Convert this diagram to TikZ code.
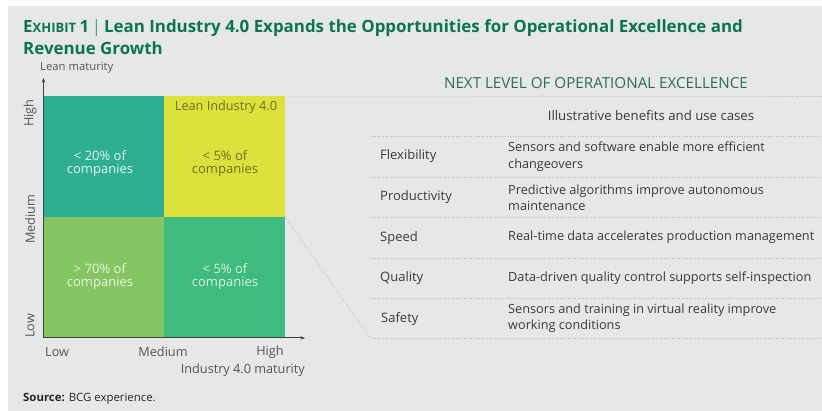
\documentclass[tikz,border=0pt]{standalone}
\usepackage{fontspec}
\setmainfont{Open Sans}
\usetikzlibrary{arrows.meta}
\definecolor{panelbg}{HTML}{E6E7E8}
\definecolor{titlegreen}{HTML}{0D7452}
\definecolor{headgreen}{HTML}{2F6E52}
\definecolor{cellteal}{HTML}{2EAE92}
\definecolor{cellyellow}{HTML}{DDE13C}
\definecolor{celllime}{HTML}{85C663}
\definecolor{cellgreen}{HTML}{3FBB7D}
\definecolor{bodytext}{HTML}{3A3A3A}
\definecolor{axistext}{HTML}{555555}
\definecolor{ruleline}{HTML}{B4B6B8}
\tikzset{
  cell/.style={minimum width=120.5pt,minimum height=120.5pt,inner sep=0pt,draw=none},
  celltext/.style={align=center,font=\fontsize{13}{13.5}\selectfont,inner sep=0pt},
  axislabel/.style={font=\fontsize{12.7}{14}\selectfont,text=axistext,inner sep=0pt},
  rowlabel/.style={anchor=west,font=\fontsize{13}{16}\selectfont,text=bodytext,inner sep=0pt},
  rowtext/.style={anchor=west,align=left,font=\fontsize{12.7}{16.5}\selectfont,text=bodytext,inner sep=0pt},
  dotrule/.style={draw=ruleline,line width=0.6pt,dash pattern=on 1pt off 1.6pt},
  axisline/.style={draw=black!75,line width=1pt,-{Stealth[length=4.5pt,width=3.5pt]}}
}
\begin{document}
\begin{tikzpicture}[x=1pt,y=-1pt]
\useasboundingbox (0,0) rectangle (822,411);
\fill[panelbg] (8,6) rectangle (822,411);

% heading
\node[anchor=base west,inner sep=0pt,text=titlegreen,font=\bfseries] (title1) at (23,33)
  {{\fontsize{16.9}{20}\selectfont E}{\fontsize{13}{20}\selectfont XHIBIT }{\fontsize{16.9}{20}\selectfont 1\,{\color{titlegreen!70}\mdseries|}\,Lean Industry 4.0 Expands the Opportunities for Operational Excellence and}};
\node[anchor=base west,inner sep=0pt,text=titlegreen,font=\bfseries\fontsize{16.9}{20}\selectfont] (title2) at (23,55) {Revenue Growth};

% matrix cells
\node[cell,fill=cellteal] (tl) at (104,156.5) {};
\node[cell,fill=cellyellow] (tr) at (224.5,156.5) {};
\node[cell,fill=celllime] (bl) at (104,277) {};
\node[cell,fill=cellgreen] (br) at (224.5,277) {};

\node[celltext,text=white!88!cellteal] (tltext) at (100,163.5) {< 20\% of\\companies};
\node[celltext,text=black!50!cellyellow] (trtext) at (225,163.5) {< 5\% of\\companies};
\node[inner sep=0pt,font=\fontsize{12.7}{14}\selectfont,text=black!50!cellyellow] (trhead) at (226,107) {Lean Industry 4.0};
\node[celltext,text=white!80!celllime] (bltext) at (100,276.5) {> 70\% of\\companies};
\node[celltext,text=white!80!cellgreen] (brtext) at (225,276.5) {< 5\% of\\companies};

% axes
\coordinate (origin) at (43.5,338);
\coordinate (ytip) at (43.5,78);
\coordinate (xtip) at (305,338);
\draw[axisline] (origin) -- (ytip);
\draw[axisline] (origin) -- (xtip);

\node[inner sep=0pt,font=\fontsize{11.3}{13}\selectfont,text=axistext,anchor=west] (ytitle) at (40,68) {Lean maturity};
\node[axislabel,rotate=90] (yhigh) at (30,113) {High};
\node[axislabel,rotate=90] (ymed) at (30,219) {Medium};
\node[axislabel,rotate=90] (ylow) at (30,326) {Low};
\node[axislabel,anchor=west] (xlow) at (45,352) {Low};
\node[axislabel] (xmed) at (163,352) {Medium};
\node[axislabel] (xhigh) at (270,352) {High};
\node[axislabel,anchor=east] (xtitle) at (305,370) {Industry 4.0 maturity};

\node[anchor=base west,inner sep=0pt,font=\fontsize{11.4}{13}\selectfont,text=black!85] (source) at (23,402) {\textbf{Source:} BCG experience.};

% right-hand table
\node[inner sep=0pt,font=\fontsize{15.2}{17}\selectfont,text=headgreen] (nexthead) at (596,83) {NEXT LEVEL OF OPERATIONAL EXCELLENCE};
\node[inner sep=0pt,font=\fontsize{13.2}{15}\selectfont,text=bodytext] (colhead) at (651,116) {Illustrative benefits and use cases};

\coordinate (r0a) at (370,136);   \coordinate (r0b) at (822,136);
\coordinate (r1a) at (370,177);   \coordinate (r1b) at (822,177);
\coordinate (r2a) at (370,217);   \coordinate (r2b) at (822,217);
\coordinate (r3a) at (370,258);   \coordinate (r3b) at (822,258);
\coordinate (r4a) at (370,298);   \coordinate (r4b) at (822,298);
\coordinate (r5a) at (370,338);   \coordinate (r5b) at (822,338);
\coordinate (topb) at (822,96.5);

\draw[dotrule] (tr.north east) -- (topb);
\foreach \r in {0,...,5} \draw[dotrule] (r\r a) -- (r\r b);
\draw[dotrule] (br.north east) -- (r5a);

\node[rowlabel] (flex) at (380,156.5) {Flexibility};
\node[rowlabel] (prod) at (380,197) {Productivity};
\node[rowlabel] (speed) at (380,238) {Speed};
\node[rowlabel] (qual) at (380,278) {Quality};
\node[rowlabel] (safe) at (381,319) {Safety};

\node[rowtext] (flextext) at (508,156.5) {Sensors and software enable more efficient\\changeovers};
\node[rowtext] (prodtext) at (508,197.5) {Predictive algorithms improve autonomous\\maintenance};
\node[rowtext] (speedtext) at (508,237) {Real-time data accelerates production management};
\node[rowtext] (qualtext) at (508,278) {Data-driven quality control supports self-inspection};
\node[rowtext] (safetext) at (508,318) {Sensors and training in virtual reality improve\\working conditions};
\end{tikzpicture}
\end{document}
